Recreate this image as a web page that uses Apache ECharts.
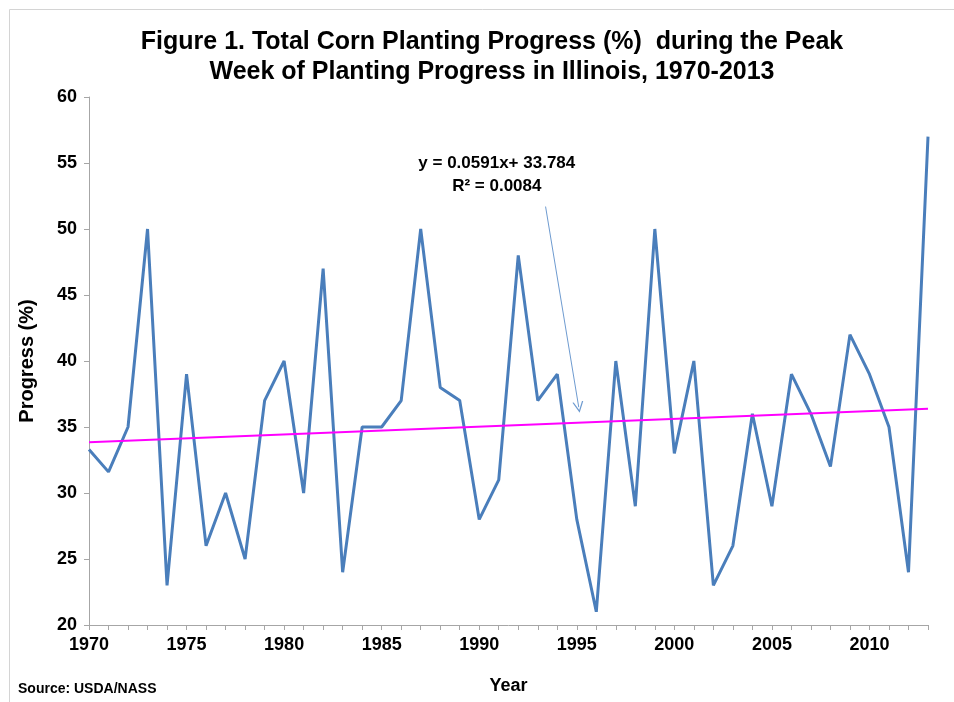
<!DOCTYPE html>
<html>
<head>
<meta charset="utf-8">
<script src="https://cdn.jsdelivr.net/npm/echarts@6/dist/echarts.min.js"></script>
<style>
html,body{margin:0;padding:0;background:#fff;}
#chart{width:954px;height:702px;}
</style>
</head>
<body>
<div id="chart"></div>
<script>
// ---- data ----
const years = ['1970','1971','1972','1973','1974','1975','1976','1977','1978','1979',
  '1980','1981','1982','1983','1984','1985','1986','1987','1988','1989',
  '1990','1991','1992','1993','1994','1995','1996','1997','1998','1999',
  '2000','2001','2002','2003','2004','2005','2006','2007','2008','2009',
  '2010','2011','2012','2013'];
const progress = [33.3,31.6,35,50,23,39,26,30,25,37,
  40,30,47,24,35,35,37,50,38,37,
  28,31,48,37,39,28,21,40,29,50,
  33,40,23,26,36,29,39,36,32,42,
  39,35,24,57];
const yTicks = [20,25,30,35,40,45,50,55,60];
const trendSlope = 0.0591;
const trendIntercept = 33.784;
const trendYears = [1970, 2013];
const trendLabel = 'y = 0.0591x+ 33.784\nR² = 0.0084';
const arrowFrom = [1993.4, 51.7];
const arrowTo = [1995.1, 36.5];
const labelAt = [1990.9, 54.1];

const trendData = trendYears.map(y => [y, trendIntercept + trendSlope * (y - 1969)]);

const FONT = '"Liberation Sans", Arial, sans-serif';
const chart = echarts.init(document.getElementById('chart'), null, {renderer:'canvas'});
chart.setOption({
  animation: false,
  backgroundColor: '#fff',
  title: {
    text: 'Figure 1. Total Corn Planting Progress (%)  during the Peak\nWeek of Planting Progress in Illinois, 1970-2013',
    left: 487, top: 22, textAlign: 'center',
    textStyle: {fontFamily: FONT, fontSize: 25, fontWeight: 'bold', color: '#000', lineHeight: 30}
  },
  graphic: [
    {type:'rect', left: 7, top: 7, shape:{width: 1000, height: 800}, style:{fill:'none', stroke:'#D4D4D4', lineWidth:1}, silent:true},
    {type:'text', left: 18, top: 682, style:{text:'Source: USDA/NASS', font:'bold 14px ' + FONT, fill:'#000'}}
  ],
  grid: {left: 89, right: 26, top: 97, bottom: 77},
  xAxis: [{
    type: 'category',
    data: years,
    boundaryGap: false,
    name: 'Year',
    nameLocation: 'middle',
    nameGap: 52,
    nameTextStyle: {fontFamily: FONT, fontSize: 18, fontWeight: 'bold', color: '#000'},
    axisLine: {lineStyle: {color: '#A6A6A6', width: 1}},
    axisTick: {show: true, interval: 0, length: 5, lineStyle: {color: '#A6A6A6'}},
    axisLabel: {interval: 4, fontFamily: FONT, fontSize: 18, fontWeight: 'bold', color: '#000', margin: 11},
    splitLine: {show: false}
  }, {
    type: 'value',
    min: 1970, max: 2013,
    show: false,
    splitLine: {show: false}
  }],
  yAxis: {
    type: 'value',
    min: yTicks[0], max: yTicks[yTicks.length-1], interval: 5,
    name: 'Progress (%)',
    nameLocation: 'middle',
    nameGap: 52,
    nameTextStyle: {fontFamily: FONT, fontSize: 20, fontWeight: 'bold', color: '#000'},
    axisLine: {show: true, lineStyle: {color: '#A6A6A6', width: 1}},
    axisTick: {show: true, length: 5, lineStyle: {color: '#A6A6A6'}},
    axisLabel: {fontFamily: FONT, fontSize: 18, fontWeight: 'bold', color: '#000', margin: 12},
    splitLine: {show: false}
  },
  series: [{
    type: 'line',
    data: progress,
    xAxisIndex: 0,
    symbol: 'none',
    lineStyle: {color: '#4A7EBB', width: 3},
    z: 3
  }, {
    type: 'line',
    xAxisIndex: 1,
    data: trendData,
    symbol: 'none',
    lineStyle: {color: '#FF00FF', width: 2},
    z: 4,
    markLine: {
      silent: true,
      symbol: ['none', 'path://M5,0 L10,11 L8.8,11 L5,2.6 L1.2,11 L0,11 Z'],
      symbolSize: 11,
      label: {show: false},
      itemStyle: {color: '#6E9BD0'},
      lineStyle: {color: '#6E9BD0', width: 1, type: 'solid'},
      data: [[{coord: arrowFrom}, {coord: arrowTo}]]
    },
    markPoint: {
      symbol: 'circle', symbolSize: 0,
      label: {show: true, position: 'inside', formatter: trendLabel, fontFamily: FONT, fontSize: 17, fontWeight: 'bold', color: '#000', lineHeight: 23},
      data: [{coord: labelAt}]
    }
  }]
});
</script>
</body>
</html>
